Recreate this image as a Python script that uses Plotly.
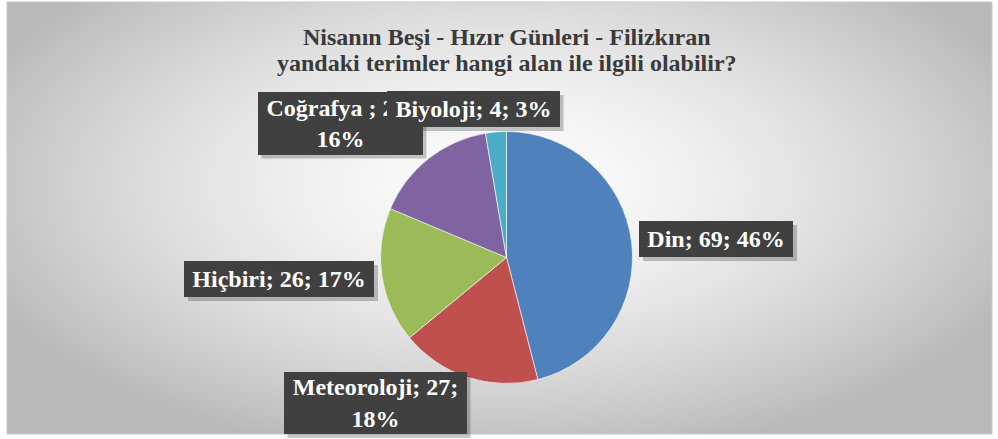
import base64
import struct
import zlib

import numpy as np
import plotly.graph_objects as go

# ---------------- data ----------------
categories = ["Din", "Meteoroloji", "Hiçbiri", "Coğrafya", "Biyoloji"]
counts = [69, 27, 26, 24, 4]
colors = ["#4F81BD", "#C0504D", "#9BBB59", "#8064A2", "#4BACC6"]
title_lines = ["Nisanın Beşi - Hızır Günleri - Filizkıran",
               "yandaki terimler hangi alan ile ilgili olabilir?"]

# ---------------- layout constants (pixels) ----------------
W, H = 998, 439
pie_cx, pie_cy, pie_r = 506.5, 257.5, 126
title_y = [37, 63]
# label box centers and sizes (px)
label_boxes = {
    "Din": (716, 239, 154, 36, False),
    "Meteoroloji": (375, 403, 183, 62, True),
    "Hiçbiri": (279, 279, 190, 36, False),
    "Coğrafya": (340, 123, 165, 63, True),
    "Biyoloji": (473, 109, 173, 36, False),
}
SERIF = "Liberation Serif"


def px(x):
    return x / W


def py(y):
    return 1 - y / H


# ---------------- background gradient as PNG ----------------
def gradient_png(w, h):
    yy, xx = np.mgrid[0:h, 0:w].astype(float)
    cx, cy = w * 0.5, h * 0.42
    t = np.sqrt(((xx - cx) / (w * 0.55)) ** 2 + ((yy - cy) / (h * 0.62)) ** 2)
    val = 252 - 62 * np.clip(t, 0, 1.3) ** 1.6
    val = np.clip(val, 185, 255).astype(np.uint8)
    raw = b"".join(b"\x00" + val[r].tobytes() for r in range(h))

    def chunk(tag, data):
        c = struct.pack(">I", len(data)) + tag + data
        return c + struct.pack(">I", zlib.crc32(tag + data) & 0xFFFFFFFF)

    png = b"\x89PNG\r\n\x1a\n"
    png += chunk(b"IHDR", struct.pack(">IIBBBBB", w, h, 8, 0, 0, 0, 0))
    png += chunk(b"IDAT", zlib.compress(raw, 9))
    png += chunk(b"IEND", b"")
    return "data:image/png;base64," + base64.b64encode(png).decode()


bg = gradient_png(400, 176)

total = sum(counts)

fig = go.Figure()
fig.add_trace(go.Pie(
    labels=categories,
    values=counts,
    sort=False,
    direction="clockwise",
    rotation=0,
    marker=dict(colors=colors, line=dict(color="rgba(255,255,255,0.6)", width=1)),
    textinfo="none",
    hoverinfo="label+value+percent",
    showlegend=False,
    domain=dict(x=[px(pie_cx - pie_r), px(pie_cx + pie_r)],
                y=[py(pie_cy + pie_r), py(pie_cy - pie_r)]),
))

shapes = []
annotations = []

# chart border
shapes.append(dict(type="rect", xref="paper", yref="paper",
                   x0=px(7), x1=px(992), y0=py(434), y1=py(2),
                   line=dict(color="#c8c8c8", width=1), layer="below"))

for line, ty in zip(title_lines, title_y):
    annotations.append(dict(
        x=px(507), y=py(ty), xref="paper", yref="paper",
        text=f"<b>{line}</b>", showarrow=False, align="center",
        font=dict(family=SERIF, size=24, color="#3a3a3a"),
        xanchor="center", yanchor="middle",
    ))

for cat, val in zip(categories, counts):
    cx, cy, bw, bh, wrap = label_boxes[cat]
    pct = round(100 * val / total)
    sep = " ; " if cat == "Coğrafya" else "; "
    if wrap:
        text = f"<b>{cat}{sep}{val};<br>{pct}%</b>"
    else:
        text = f"<b>{cat}{sep}{val}; {pct}%</b>"
    # shadow
    shapes.append(dict(type="rect", xref="paper", yref="paper",
                       x0=px(cx - bw / 2 + 4), x1=px(cx + bw / 2 + 4),
                       y0=py(cy + bh / 2 + 4), y1=py(cy - bh / 2 + 4),
                       fillcolor="rgba(0,0,0,0.22)", line=dict(width=0),
                       layer="above"))
    annotations.append(dict(
        x=px(cx), y=py(cy), xref="paper", yref="paper",
        text=text, showarrow=False, align="center",
        width=bw, height=bh, borderpad=0, borderwidth=0,
        bgcolor="#404040",
        font=dict(family=SERIF, size=24, color="white"),
        xanchor="center", yanchor="middle",
    ))

fig.update_layout(
    width=W, height=H,
    margin=dict(l=0, r=0, t=0, b=0),
    paper_bgcolor="white",
    plot_bgcolor="white",
    shapes=shapes,
    annotations=annotations,
    images=[dict(source=bg, xref="paper", yref="paper",
                 x=px(7), y=py(2), sizex=px(992) - px(7), sizey=py(2) - py(434),
                 xanchor="left", yanchor="top", sizing="stretch", layer="below")],
)

fig.write_html("out.html",
               config={"displayModeBar": False},
               post_script="document.body.style.margin='0';document.body.style.overflow='hidden';")
